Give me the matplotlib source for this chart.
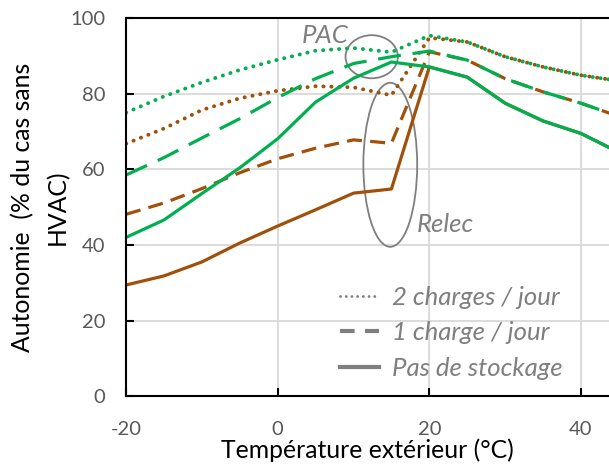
import numpy as np
import matplotlib.pyplot as plt
from matplotlib.lines import Line2D
from matplotlib.patches import Ellipse

plt.rcParams['font.family'] = ['Lato', 'DejaVu Sans']
plt.rcParams['axes.unicode_minus'] = False

# Données
temp = [-20, -15, -10, -5, 0, 5, 10, 15, 20, 25, 30, 35, 40, 45]

# PAC (vert)
pac_2ch = [75.0, 79.3, 83.0, 86.3, 89.0, 91.4, 92.1, 91.0, 95.4, 93.7, 89.8, 87.1, 84.9, 83.4]
pac_1ch = [58.5, 63.1, 68.3, 73.4, 79.0, 84.0, 88.0, 89.8, 91.3, 88.9, 84.0, 80.5, 77.5, 74.0]
pac_0ch = [42.0, 46.6, 53.6, 60.4, 68.1, 77.8, 84.1, 88.4, 87.1, 84.4, 77.5, 72.8, 69.5, 64.5]

# Relec (marron)
relec_2ch = [66.8, 70.8, 75.7, 78.8, 80.8, 82.0, 81.7, 79.6, 94.8, 93.7, 89.8, 87.1, 84.9, 83.4]
relec_1ch = [48.1, 51.1, 54.9, 59.1, 62.8, 65.6, 67.8, 66.9, 91.1, 88.9, 84.0, 80.5, 77.5, 74.0]
relec_0ch = [29.4, 31.8, 35.5, 40.5, 45.0, 49.3, 53.7, 54.8, 87.1, 84.4, 77.5, 72.8, 69.5, 64.5]

green = '#00b050'
brown = '#a0500a'
grey = '#7f7f7f'

lw = 2.3
lw_dot = 2.8
dot = (0, (0.05, 2.0))
dash_b = (0, (4.7, 2.6))
dash_g = (0, (7.2, 3.7))

fig = plt.figure(figsize=(6.09, 4.66), dpi=100)
ax = fig.add_axes([0.207, 0.150, 0.793, 0.811])

ax.plot(temp, relec_0ch, color=brown, lw=lw)
ax.plot(temp, relec_1ch, color=brown, lw=lw, linestyle=dash_b)
ax.plot(temp, relec_2ch, color=brown, lw=lw_dot, linestyle=dot, dash_capstyle='round')
ax.plot(temp, pac_0ch, color=green, lw=lw)
ax.plot(temp, pac_1ch, color=green, lw=lw, linestyle=dash_g)
ax.plot(temp, pac_2ch, color=green, lw=lw_dot, linestyle=dot, dash_capstyle='round')

# annotations
ax.add_patch(Ellipse((12.4, 89.8), 6.9, 11.4, fill=False, ec=grey, lw=1.3))
ax.add_patch(Ellipse((14.85, 61.2), 7.1, 43.4, fill=False, ec=grey, lw=1.3))
ax.text(6.3, 95.5, 'PAC', color=grey, fontsize=18.5, style='italic', ha='center', va='center')
ax.text(18.4, 45.5, 'Relec', color=grey, fontsize=18.5, style='italic', ha='left', va='center')

handles = [
    Line2D([], [], color=grey, lw=2, linestyle=(0, (0.05, 2.0)), dash_capstyle='round'),
    Line2D([], [], color=grey, lw=3, linestyle=(0, (3.5, 2.5))),
    Line2D([], [], color=grey, lw=3),
]
labels = ['2 charges / jour', '1 charge / jour', 'Pas de stockage']
leg = ax.legend(handles, labels, loc='lower right', bbox_to_anchor=(0.93, 0.008),
                frameon=False, borderpad=0, handlelength=1.5, handletextpad=0.5,
                labelspacing=0.5, prop={'size': 18.5, 'style': 'italic'})
for t in leg.get_texts():
    t.set_color(grey)

ax.set_xlim(-20, 43.7)
ax.set_ylim(0, 100)
ax.set_xticks([-20, 0, 20, 40])
ax.set_yticks([0, 20, 40, 60, 80, 100])
ax.grid(True, color='#d9d9d9', lw=1.3)
ax.set_axisbelow(True)
ax.tick_params(direction='in', length=6, width=1.5, labelsize=14.5, labelcolor='#595959')
ax.tick_params(axis='y', pad=15)
ax.tick_params(axis='x', pad=18)
for s in ['left', 'top', 'bottom']:
    ax.spines[s].set_linewidth(1.5)
ax.spines['right'].set_visible(False)

ax.set_xlabel('Température extérieur (°C)', fontsize=17.8, labelpad=0)
ax.set_ylabel('Autonomie  (% du cas sans\nHVAC)', fontsize=17.8, labelpad=1, linespacing=1.6)

plt.savefig('out.png', dpi=100)
